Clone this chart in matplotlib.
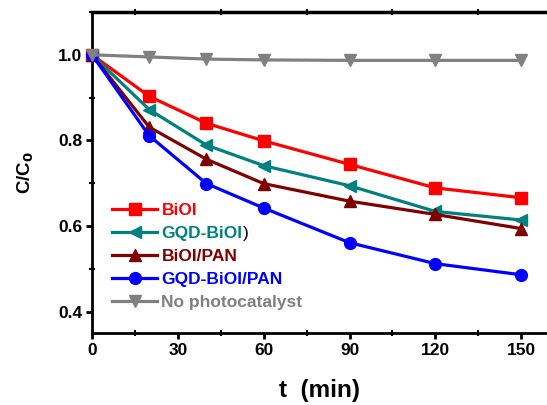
import matplotlib
matplotlib.use("Agg")
import matplotlib.pyplot as plt
from matplotlib.ticker import MultipleLocator

plt.rcParams['font.family'] = ['Liberation Sans', 'DejaVu Sans']
plt.rcParams['font.weight'] = 'bold'

# reaction time (min)
t = [0, 20, 40, 60, 90, 120, 150]

# C/C0 for each sample
bioi = [1.0, 0.903, 0.840, 0.799, 0.744, 0.689, 0.666]
gqd_bioi = [1.0, 0.872, 0.789, 0.741, 0.694, 0.634, 0.614]
bioi_pan = [1.0, 0.831, 0.756, 0.699, 0.658, 0.627, 0.594]
gqd_bioi_pan = [1.0, 0.811, 0.699, 0.642, 0.561, 0.512, 0.486]
no_cat = [1.0, 0.995, 0.990, 0.988, 0.987, 0.987, 0.987]

labels = ['BiOI', 'GQD-BiOI', 'BiOI/PAN', 'GQD-BiOI/PAN', 'No photocatalyst']
colors = ['#ff0000', '#008080', '#800000', '#0000ff', '#808080']
markers = ['s', '<', '^', 'o', 'v']
series = [bioi, gqd_bioi, bioi_pan, gqd_bioi_pan, no_cat]

fig = plt.figure(figsize=(5.47, 4.05), dpi=100)
ax = fig.add_axes([92/547, 1 - 333/405, 1 - 92/547, 321/405])

for y, lab, c, m in zip(series, labels, colors, markers):
    ax.plot(t, y, color=c, marker=m, markersize=8.5, linewidth=2.3, label=lab,
            clip_on=False, zorder=3)

ax.set_xlim(0, 159)
ax.set_ylim(0.35, 1.1)
ax.xaxis.set_major_locator(MultipleLocator(30))
ax.xaxis.set_minor_locator(MultipleLocator(15))
ax.yaxis.set_major_locator(MultipleLocator(0.2))
ax.yaxis.set_minor_locator(MultipleLocator(0.1))
ax.yaxis.set_major_formatter(plt.FormatStrFormatter('%.1f'))

ax.spines['right'].set_visible(False)
for s in ['left', 'bottom', 'top']:
    ax.spines[s].set_linewidth(2)
ax.spines['top'].set_linewidth(2.5)

ax.tick_params(which='major', direction='out', length=4, width=2, labelsize=12.5, pad=3)
ax.tick_params(which='minor', direction='inout', length=4, width=1.5)
ax.tick_params(axis='x', which='minor', top=True)

ax.set_xlabel('t  (min)', fontsize=17.5, fontweight='bold', labelpad=15)
ax.set_ylabel('C/C$_\\mathbf{0}$', fontsize=13.5, fontweight='bold', labelpad=16)

leg = ax.legend(loc='upper left', bbox_to_anchor=(0.044, 0.405), frameon=False,
                fontsize=12.5, handlelength=2.6, handletextpad=0.25,
                labelspacing=0.45, borderpad=0, borderaxespad=0)
for txt, c in zip(leg.get_texts(), colors):
    txt.set_color(c)
    txt.set_fontweight('bold')

# the stray black ")" after GQD-BiOI in the legend
fig.canvas.draw()
bb = leg.get_texts()[1].get_window_extent()
x0, y0 = fig.transFigure.inverted().transform((bb.x1, (bb.y0 + bb.y1) / 2))
fig.text(x0, y0, ')', fontsize=12.5, fontweight='normal', color='black',
         va='center', ha='left')

fig.savefig('out.png', dpi=100)
